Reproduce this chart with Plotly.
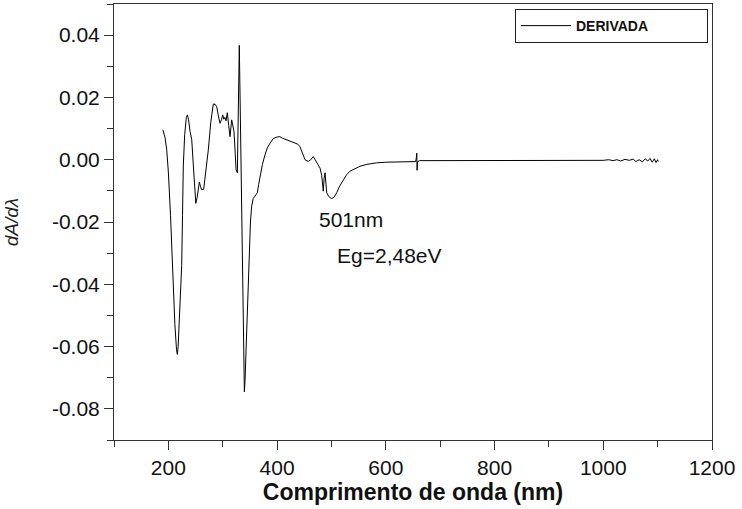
import plotly.graph_objects as go

# Wavelength (nm) and derivative dA/dλ
wavelength = [
    190, 194, 197, 200, 204, 208, 212, 215, 216.5, 218, 221, 224.5, 226, 227.5, 230, 233, 235, 237,
    240, 243, 246, 249, 250.5, 253, 257, 259, 261, 265, 269, 273.5, 278, 282.7, 286, 289, 292, 295,
    298, 300, 302, 304, 306, 308.5, 311, 313.4, 316.5, 318, 320.8, 323, 324.5, 326.9, 328.5, 330.5,
    331.5, 333, 335, 336.7, 338.5, 339.8, 341, 344, 346, 349, 351, 353.3, 356, 359.4, 363.6, 366,
    368.6, 373, 377.8, 382, 387, 393, 400, 405, 410, 417.7, 425, 433, 438, 442, 446, 451.4, 455, 458,
    462, 466.6, 470, 473, 476, 479, 482, 484, 485, 486.5, 488.2, 490, 491.3, 495, 500.5, 505, 509.7,
    515, 521.8, 528, 534, 543, 552.5, 565, 583, 600, 626, 640, 655, 656, 657, 657.5, 658.5, 662, 700,
    750, 800, 850, 900, 950, 980, 1000, 1010, 1018, 1025, 1032, 1040, 1048, 1055, 1060, 1066, 1072,
    1077, 1082, 1086, 1090, 1094, 1097, 1100, 1101,
]
derivada = [
    0.0096, 0.0070, 0.0032, -0.004, -0.018, -0.036, -0.053, -0.061, -0.0625, -0.060, -0.048, -0.034,
    -0.018, -0.002, 0.008, 0.0135, 0.0144, 0.013, 0.009, 0.0064, -0.002, -0.011, -0.014, -0.012,
    -0.0072, -0.0085, -0.0096, -0.0095, -0.004, 0.0032, 0.012, 0.0179, 0.0178, 0.017, 0.014, 0.0117,
    0.013, 0.0144, 0.013, 0.0136, 0.0125, 0.0151, 0.011, 0.0074, 0.0128, 0.0115, 0.009, 0.002,
    -0.0032, -0.0042, 0.015, 0.0367, 0.025, 0.0085, -0.020, -0.0447, -0.066, -0.0745, -0.071,
    -0.0553, -0.045, -0.0287, -0.020, -0.0149, -0.0125, -0.0117, -0.0106, -0.008, -0.0053, -0.0015,
    0.0016, 0.0038, 0.0053, 0.0068, 0.0073, 0.0074, 0.0069, 0.0064, 0.0060, 0.0053, 0.0050, 0.0042,
    0.0025, 0.0, -0.0004, -0.0005, 0.0, 0.001, 0.0, -0.001, -0.0018, -0.0027, -0.005, -0.0095,
    -0.0101, -0.006, -0.0042, -0.008, -0.0106, -0.0118, -0.0125, -0.012, -0.0106, -0.0085, -0.0064,
    -0.0048, -0.0037, -0.0028, -0.0021, -0.0015, -0.001, -0.0008, -0.0007, -0.0007, -0.0006, 0.0005,
    0.0021, -0.0034, -0.0006, -0.0003, -0.0003, -0.0003, -0.0002, -0.0002, -0.0002, -0.0002, -0.0001,
    -0.0002, 0.0, -0.0003, 0.0, -0.0004, 0.0001, -0.0002, 0.0002, -0.0006, 0.0, -0.0007,
    0.0003, -0.0004, 0.0004, -0.0008, 0.0003, -0.0009, 0.0, -0.0006,
]

x_ticks = [200, 400, 600, 800, 1000, 1200]
x_ticklabels = ["200", "400", "600", "800", "1000", "1200"]
y_ticks = [-0.08, -0.06, -0.04, -0.02, 0.0, 0.02, 0.04]
y_ticklabels = ["-0.08", "-0.06", "-0.04", "-0.02", "0.00", "0.02", "0.04"]

FONT = "Arial, 'Liberation Sans', sans-serif"
AX = "#333333"

fig = go.Figure()
fig.add_trace(go.Scatter(
    x=wavelength, y=derivada, mode="lines", name="DERIVADA",
    line=dict(color="black", width=1),
))

fig.update_layout(
    width=742, height=509,
    margin=dict(l=114, r=30, t=4, b=69),
    paper_bgcolor="white", plot_bgcolor="white",
    font=dict(family=FONT, color="black"),
    showlegend=True,
    legend=dict(
        x=0.9933, y=0.9885, xanchor="right", yanchor="top",
        orientation="h", entrywidth=126, entrywidthmode="pixels",
        bordercolor="#222", borderwidth=1, bgcolor="white",
        font=dict(family=FONT, size=14, weight="bold", color="#111"),
        itemwidth=50,
    ),
    annotations=[
        dict(x=536, y=-0.0191, xref="x", yref="y", text="501nm", showarrow=False,
             font=dict(family=FONT, size=21, color="#111")),
        dict(x=606, y=-0.0306, xref="x", yref="y", text="Eg=2,48eV", showarrow=False,
             font=dict(family=FONT, size=21, color="#111")),
    ],
)

fig.update_xaxes(
    range=[100, 1200], showgrid=False, zeroline=False,
    showline=True, linecolor=AX, linewidth=1, mirror=True,
    ticks="outside", ticklen=9, tickcolor=AX, tickwidth=1,
    tickvals=x_ticks, ticktext=x_ticklabels,
    tickfont=dict(family=FONT, size=21, color="#111"),
    minor=dict(ticks="outside", dtick=100, tick0=100, ticklen=6, tickcolor=AX),
    title=dict(text="<b>Comprimento de onda (nm)</b>", font=dict(family=FONT, size=23, color="#111"),
               standoff=5),
)
fig.update_yaxes(
    range=[-0.09, 0.05], showgrid=False, zeroline=False,
    showline=True, linecolor=AX, linewidth=1, mirror=True,
    ticks="outside", ticklen=9, tickcolor=AX, tickwidth=1,
    tickvals=y_ticks, ticktext=y_ticklabels,
    tickfont=dict(family=FONT, size=21, color="#111"),
    minor=dict(ticks="outside", dtick=0.01, tick0=0.05, ticklen=6, tickcolor=AX),
    title=dict(text="<i>dA/dλ</i>", font=dict(family=FONT, size=19, color="#222"), standoff=28),
)

fig.write_html("out.html")
